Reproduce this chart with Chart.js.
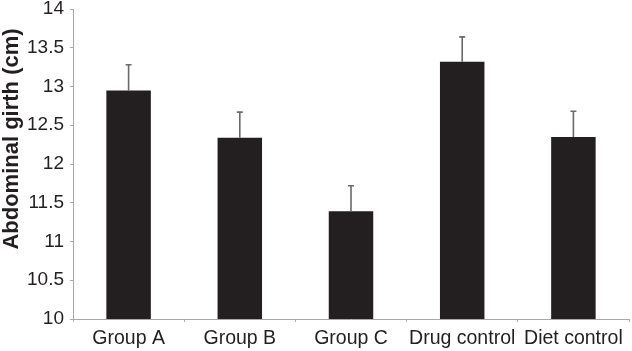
<!DOCTYPE html>
<html>
<head>
<meta charset="utf-8">
<script src="https://cdn.jsdelivr.net/npm/chart.js@4/dist/chart.umd.min.js"></script>
<style>
  html, body { margin: 0; padding: 0; background: #ffffff; }
  #wrap { width: 632px; height: 351px; position: relative; }
</style>
</head>
<body>
<div id="wrap"><canvas id="c" width="632" height="351"></canvas></div>
<script>
const categories = ["Group A", "Group B", "Group C", "Drug control", "Diet control"];
const girthMeans = [12.95, 12.34, 11.39, 13.32, 12.35];
const girthErrors = [0.33, 0.33, 0.33, 0.32, 0.33];
const yTickMin = 10;
const yTickMax = 14;
const yTickStep = 0.5;
const yTitle = 'Abdominal girth (cm)';

const errorBarPlugin = {
  id: 'errorBars',
  afterDatasetsDraw(chart) {
    const ctx = chart.ctx;
    const yScale = chart.scales.y;
    const meta = chart.getDatasetMeta(0);
    ctx.save();
    ctx.strokeStyle = '#6a6a6a';
    ctx.lineWidth = 1.6;
    meta.data.forEach((el, i) => {
      const top = yScale.getPixelForValue(girthMeans[i] + girthErrors[i]);
      ctx.beginPath();
      ctx.moveTo(el.x, el.y);
      ctx.lineTo(el.x, top);
      ctx.moveTo(el.x - 3, top);
      ctx.lineTo(el.x + 3, top);
      ctx.stroke();
    });
    ctx.restore();
  }
};

const yTitlePlugin = {
  id: 'yTitle',
  afterDraw(chart) {
    const ctx = chart.ctx;
    const area = chart.chartArea;
    ctx.save();
    ctx.translate(12, area.top + 130);
    ctx.rotate(-Math.PI / 2);
    ctx.fillStyle = '#231f20';
    ctx.font = 'bold 22px "Liberation Sans"';
    ctx.textAlign = 'center';
    ctx.textBaseline = 'middle';
    ctx.fillText(yTitle, 0, 0);
    ctx.restore();
  }
};

new Chart(document.getElementById('c'), {
  type: 'bar',
  data: {
    labels: categories,
    datasets: [{
      data: girthMeans,
      backgroundColor: '#231f20',
      borderWidth: 0,
      barPercentage: 0.4,
      categoryPercentage: 1.0
    }]
  },
  options: {
    responsive: false,
    animation: false,
    devicePixelRatio: 1,
    layout: { padding: { top: 9, right: 3, bottom: 0, left: 0 } },
    plugins: { legend: { display: false }, tooltip: { enabled: false } },
    scales: {
      x: {
        grid: { display: true, drawOnChartArea: false, drawTicks: true, tickLength: 3, color: '#a8a8a8', offset: true },
        border: { display: true, color: '#a8a8a8', width: 1 },
        ticks: { color: '#231f20', font: { family: 'Liberation Sans', size: 19.5 }, padding: 5, maxRotation: 0, autoSkip: false },
        afterFit(s) { s.height = 32; s.paddingLeft = 0; s.paddingRight = 0; }
      },
      y: {
        min: yTickMin,
        max: yTickMax,
        grid: { display: true, drawOnChartArea: false, drawTicks: true, tickLength: 3, color: '#a8a8a8' },
        border: { display: true, color: '#a8a8a8', width: 1 },
        ticks: { stepSize: yTickStep, color: '#231f20', font: { family: 'Liberation Sans', size: 19 }, padding: 6,
                 callback: v => String(v) },
        afterFit(s) { s.width = 73; s.paddingTop = 0; s.paddingBottom = 0; }
      }
    }
  },
  plugins: [errorBarPlugin, yTitlePlugin]
});
</script>
</body>
</html>
